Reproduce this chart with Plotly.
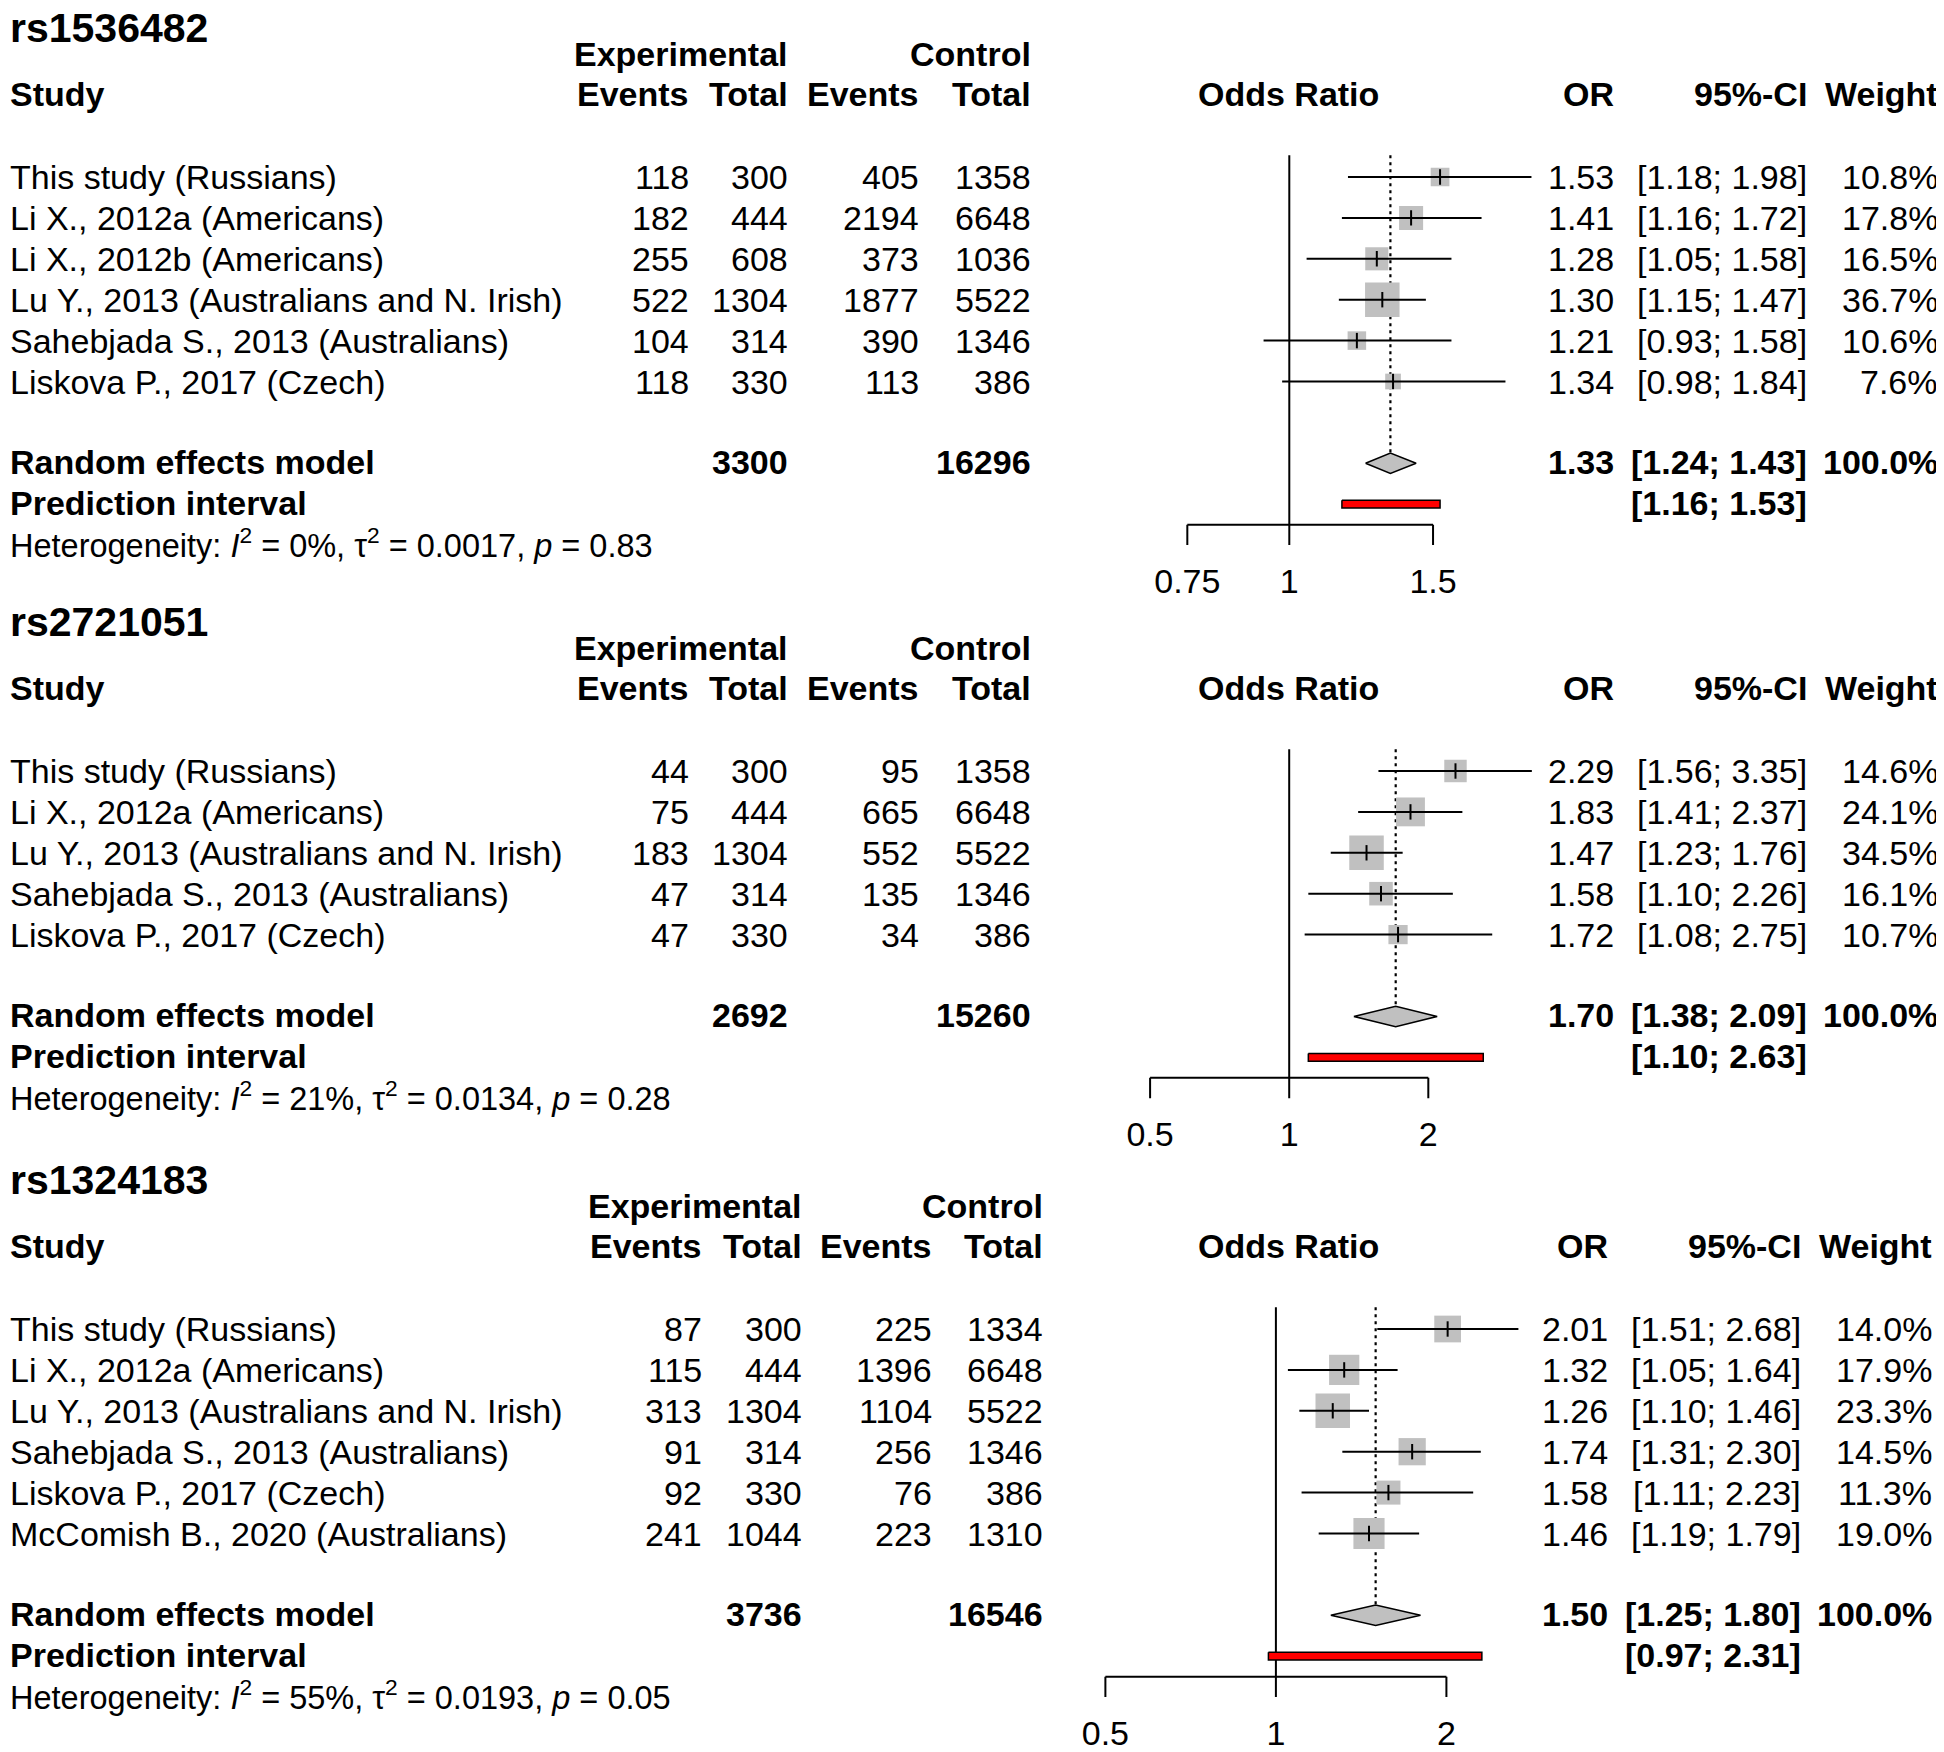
import math
import plotly.graph_objects as go

# %%
# rs1536482

studies_1 = ["This study (Russians)", "Li X., 2012a (Americans)", "Li X., 2012b (Americans)",
             "Lu Y., 2013 (Australians and N. Irish)", "Sahebjada S., 2013 (Australians)",
             "Liskova P., 2017 (Czech)"]
exp_events_1 = [118, 182, 255, 522, 104, 118]
exp_total_1 = [300, 444, 608, 1304, 314, 330]
ctrl_events_1 = [405, 2194, 373, 1877, 390, 113]
ctrl_total_1 = [1358, 6648, 1036, 5522, 1346, 386]
or_1 = [1.53, 1.41, 1.28, 1.30, 1.21, 1.34]
ci_low_1 = [1.18, 1.16, 1.05, 1.15, 0.93, 0.98]
ci_high_1 = [1.98, 1.72, 1.58, 1.47, 1.58, 1.84]
weight_1 = [10.8, 17.8, 16.5, 36.7, 10.6, 7.6]
random_1 = [1.33, 1.24, 1.43]          # OR, lower, upper
pred_1 = [1.16, 1.53]
totals_1 = [3300, 16296]
het_1 = ["0%", "0.0017", "0.83"]       # I2, tau2, p
ticks_1 = [0.75, 1, 1.5]
tick_labels_1 = ["0.75", "1", "1.5"]

# %%
# rs2721051

studies_2 = ["This study (Russians)", "Li X., 2012a (Americans)",
             "Lu Y., 2013 (Australians and N. Irish)", "Sahebjada S., 2013 (Australians)",
             "Liskova P., 2017 (Czech)"]
exp_events_2 = [44, 75, 183, 47, 47]
exp_total_2 = [300, 444, 1304, 314, 330]
ctrl_events_2 = [95, 665, 552, 135, 34]
ctrl_total_2 = [1358, 6648, 5522, 1346, 386]
or_2 = [2.29, 1.83, 1.47, 1.58, 1.72]
ci_low_2 = [1.56, 1.41, 1.23, 1.10, 1.08]
ci_high_2 = [3.35, 2.37, 1.76, 2.26, 2.75]
weight_2 = [14.6, 24.1, 34.5, 16.1, 10.7]
random_2 = [1.70, 1.38, 2.09]
pred_2 = [1.10, 2.63]
totals_2 = [2692, 15260]
het_2 = ["21%", "0.0134", "0.28"]
ticks_2 = [0.5, 1, 2]
tick_labels_2 = ["0.5", "1", "2"]

# %%
# rs1324183

studies_3 = ["This study (Russians)", "Li X., 2012a (Americans)",
             "Lu Y., 2013 (Australians and N. Irish)", "Sahebjada S., 2013 (Australians)",
             "Liskova P., 2017 (Czech)", "McComish B., 2020 (Australians)"]
exp_events_3 = [87, 115, 313, 91, 92, 241]
exp_total_3 = [300, 444, 1304, 314, 330, 1044]
ctrl_events_3 = [225, 1396, 1104, 256, 76, 223]
ctrl_total_3 = [1334, 6648, 5522, 1346, 386, 1310]
or_3 = [2.01, 1.32, 1.26, 1.74, 1.58, 1.46]
ci_low_3 = [1.51, 1.05, 1.10, 1.31, 1.11, 1.19]
ci_high_3 = [2.68, 1.64, 1.46, 2.30, 2.23, 1.79]
weight_3 = [14.0, 17.9, 23.3, 14.5, 11.3, 19.0]
random_3 = [1.50, 1.25, 1.80]
pred_3 = [0.97, 2.31]
totals_3 = [3736, 16546]
het_3 = ["55%", "0.0193", "0.05"]
ticks_3 = [0.5, 1, 2]
tick_labels_3 = ["0.5", "1", "2"]

# %%
# layout settings, in pixels of the 1944x1752 page
# (the html body keeps its default 8px margin, so the figure starts at 8,8)

W, H = 1944, 1752
OFF = 8
FIG_W, FIG_H = W - OFF, H - OFF
ROW = 40.9
FONT = "Liberation Sans, Arial, Helvetica, sans-serif"
FS = 34
BOX_MAX = 34.5
GREY = "#C0C0C0"

panels = [
    dict(snp="rs1536482", studies=studies_1, ee=exp_events_1, et=exp_total_1, ce=ctrl_events_1,
         ct=ctrl_total_1, orr=or_1, lo=ci_low_1, hi=ci_high_1, w=weight_1, re=random_1, pi=pred_1,
         tot=totals_1, het=het_1, ticks=ticks_1, tlab=tick_labels_1,
         row1=177, cols=[691, 790, 921, 1033], rcols=[1616, 1809, 1940], ref=1289.3, scale=354.5,
         xdom=(1120, 1560)),
    dict(snp="rs2721051", studies=studies_2, ee=exp_events_2, et=exp_total_2, ce=ctrl_events_2,
         ct=ctrl_total_2, orr=or_2, lo=ci_low_2, hi=ci_high_2, w=weight_2, re=random_2, pi=pred_2,
         tot=totals_2, het=het_2, ticks=ticks_2, tlab=tick_labels_2,
         row1=771, cols=[691, 790, 921, 1033], rcols=[1616, 1809, 1940], ref=1289.2, scale=200.7,
         xdom=(1120, 1560)),
    dict(snp="rs1324183", studies=studies_3, ee=exp_events_3, et=exp_total_3, ce=ctrl_events_3,
         ct=ctrl_total_3, orr=or_3, lo=ci_low_3, hi=ci_high_3, w=weight_3, re=random_3, pi=pred_3,
         tot=totals_3, het=het_3, ticks=ticks_3, tlab=tick_labels_3,
         row1=1329, cols=[704, 804, 934, 1045], rcols=[1610, 1803, 1934], ref=1275.9, scale=246.0,
         xdom=(1080, 1560)),
]

fig = go.Figure()
annotations = []


def px_x(px):
    return (px - OFF) / FIG_W


def px_y(py):
    return 1 - (py - OFF) / FIG_H


def note(text, x_px, r, k, anchor="right", size=FS):
    annotations.append(dict(text=text, x=px_x(max(x_px, OFF)), xref="paper", y=r,
                            yref="y" if k == 1 else f"y{k}",
                            xanchor=anchor, yanchor="middle", showarrow=False,
                            font=dict(family=FONT, size=size, color="black")))


for k, p in enumerate(panels, start=1):
    n = len(p["studies"])
    xa = "x" if k == 1 else f"x{k}"
    ya = "y" if k == 1 else f"y{k}"
    rows = list(range(1, n + 1))
    r_re, r_pi, r_het = n + 2, n + 3, n + 4
    r_axis = n + 3.5

    # axes: rows are ROW px apart, x is log scaled
    top_px = max(p["row1"] - 4.3 * ROW, OFF)
    bot_px = min(p["row1"] + (n + 4.3) * ROW, H)
    r_top = 1 + (top_px - p["row1"]) / ROW
    r_bot = 1 + (bot_px - p["row1"]) / ROW
    s10 = p["scale"] * math.log(10)
    fig.layout[("xaxis" if k == 1 else f"xaxis{k}")] = dict(
        type="log", domain=[px_x(p["xdom"][0]), px_x(p["xdom"][1])],
        range=[(p["xdom"][0] - p["ref"]) / s10, (p["xdom"][1] - p["ref"]) / s10],
        anchor=ya, visible=False, fixedrange=True)
    fig.layout[("yaxis" if k == 1 else f"yaxis{k}")] = dict(
        domain=[px_y(bot_px), px_y(top_px)],
        range=[r_bot, r_top], anchor=xa, visible=False, fixedrange=True)

    # reference line at OR = 1 and dotted line at pooled OR
    fig.add_trace(go.Scatter(x=[1, 1], y=[0.47, r_axis], mode="lines",
                             line=dict(color="black", width=2), xaxis=xa, yaxis=ya))
    fig.add_trace(go.Scatter(x=[p["re"][0], p["re"][0]], y=[0.47, r_re - 0.25], mode="lines",
                             line=dict(color="black", width=2.2, dash="3px,4px"),
                             xaxis=xa, yaxis=ya))

    # study boxes (area ~ weight), CI lines, estimate ticks
    wmax = max(p["w"])
    fig.add_trace(go.Scatter(x=p["orr"], y=rows, mode="markers",
                             marker=dict(symbol="square", color=GREY, opacity=1,
                                         size=[BOX_MAX * math.sqrt(v / wmax) for v in p["w"]],
                                         line=dict(width=0)),
                             xaxis=xa, yaxis=ya))
    cx, cy = [], []
    for lo, hi, r in zip(p["lo"], p["hi"], rows):
        cx += [lo, hi, None]
        cy += [r, r, None]
    fig.add_trace(go.Scatter(x=cx, y=cy, mode="lines", line=dict(color="black", width=2),
                             xaxis=xa, yaxis=ya))
    fig.add_trace(go.Scatter(x=p["orr"], y=rows, mode="markers",
                             marker=dict(symbol="line-ns", size=11, opacity=1,
                                         line=dict(color="black", width=2)),
                             xaxis=xa, yaxis=ya))

    # diamond for the random effects model
    m, lo, hi = p["re"]
    fig.add_trace(go.Scatter(x=[lo, m, hi, m, lo], y=[r_re, r_re - 0.25, r_re, r_re + 0.25, r_re],
                             mode="lines", fill="toself", fillcolor=GREY,
                             line=dict(color="black", width=1.5), xaxis=xa, yaxis=ya))

    # prediction interval bar
    pl, ph = p["pi"]
    fig.add_trace(go.Scatter(x=[pl, ph, ph, pl, pl],
                             y=[r_pi - 0.095, r_pi - 0.095, r_pi + 0.095, r_pi + 0.095, r_pi - 0.095],
                             mode="lines", fill="toself", fillcolor="#FF0000",
                             line=dict(color="black", width=1.5), xaxis=xa, yaxis=ya))

    # x axis drawn R style: line between first and last tick, ticks pointing down
    ax_x, ax_y = [p["ticks"][0], p["ticks"][-1], None], [r_axis, r_axis, None]
    for t in p["ticks"]:
        ax_x += [t, t, None]
        ax_y += [r_axis, r_axis + 0.5, None]
    fig.add_trace(go.Scatter(x=ax_x, y=ax_y, mode="lines", line=dict(color="black", width=2),
                             xaxis=xa, yaxis=ya))
    fig.add_trace(go.Scatter(x=p["ticks"], y=[n + 4.97] * len(p["ticks"]), mode="text",
                             text=p["tlab"], textposition="middle center", cliponaxis=False,
                             textfont=dict(family=FONT, size=FS, color="black"),
                             xaxis=xa, yaxis=ya))

    # table text
    c1, c2, c3, c4 = p["cols"]
    o1, o2, o3 = p["rcols"]
    note(f"<b>{p['snp']}</b>", 2, -2.64, k, anchor="left", size=41)
    note("<b>Experimental</b>", c2, -2, k)
    note("<b>Control</b>", c4, -2, k)
    note("<b>Study</b>", 2, -1.02, k, anchor="left")
    for txt, xx in zip(["Events", "Total", "Events", "Total"], p["cols"]):
        note(f"<b>{txt}</b>", xx, -1.02, k)
    note("<b>Odds Ratio</b>", 1288, -1.02, k, anchor="center")
    note("<b>OR</b>", o1, -1.02, k)
    note("<b>95%-CI</b>", o2, -1.02, k)
    note("<b>Weight</b>", o3, -1.02, k)

    for i, r in enumerate(rows):
        note(p["studies"][i], 2, r, k, anchor="left")
        note(str(p["ee"][i]), c1, r, k)
        note(str(p["et"][i]), c2, r, k)
        note(str(p["ce"][i]), c3, r, k)
        note(str(p["ct"][i]), c4, r, k)
        note(f"{p['orr'][i]:.2f}", o1, r, k)
        note(f"[{p['lo'][i]:.2f}; {p['hi'][i]:.2f}]", o2, r, k)
        note(f"{p['w'][i]:.1f}%", o3, r, k)

    note("<b>Random effects model</b>", 2, r_re - 0.04, k, anchor="left")
    note(f"<b>{p['tot'][0]}</b>", c2, r_re - 0.04, k)
    note(f"<b>{p['tot'][1]}</b>", c4, r_re - 0.04, k)
    note(f"<b>{m:.2f}</b>", o1, r_re - 0.04, k)
    note(f"<b>[{lo:.2f}; {hi:.2f}]</b>", o2, r_re - 0.04, k)
    note("<b>100.0%</b>", o3, r_re - 0.04, k)
    note("<b>Prediction interval</b>", 2, r_pi - 0.04, k, anchor="left")
    note(f"<b>[{pl:.2f}; {ph:.2f}]</b>", o2, r_pi - 0.04, k)
    i2, tau2, pv = p["het"]
    note(f"Heterogeneity: <i>I</i><sup>2</sup> = {i2}, τ<sup>2</sup> = {tau2}, <i>p</i> = {pv}",
         2, r_het - 0.05, k, anchor="left", size=32.5)

fig.update_layout(width=FIG_W, height=FIG_H, margin=dict(l=0, r=0, t=0, b=0),
                  paper_bgcolor="white", plot_bgcolor="white", showlegend=False,
                  annotations=annotations)

fig.write_html("out.html")
